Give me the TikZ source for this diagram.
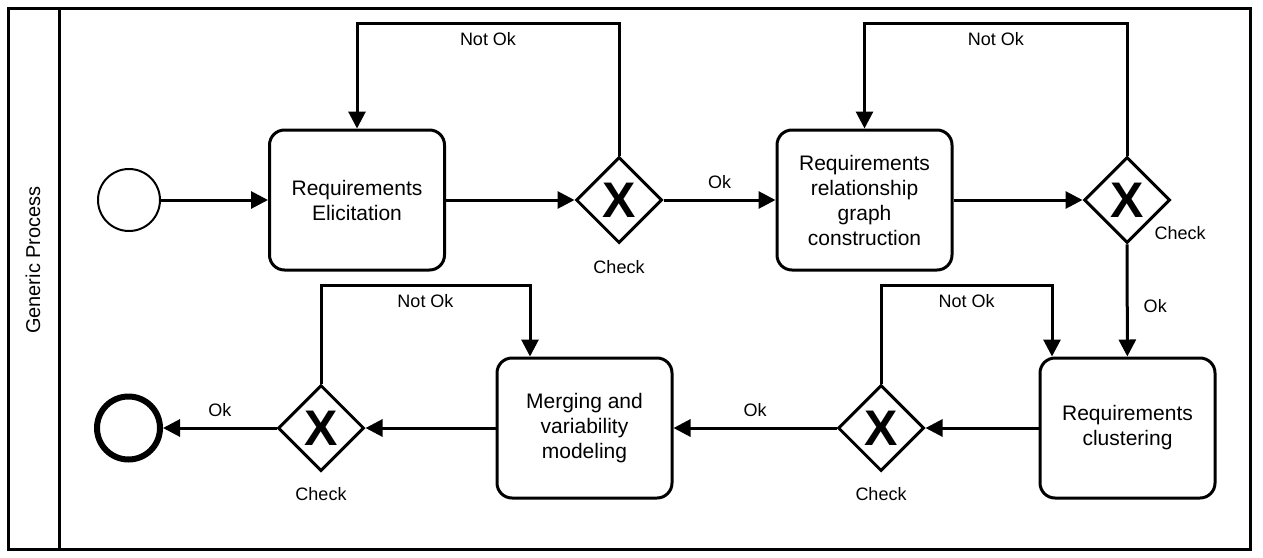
\documentclass[tikz,border=0pt]{standalone}
\usepackage{fontspec}
\setmainfont{Liberation Sans}
\usetikzlibrary{arrows.meta,shapes.geometric,positioning}
\begin{document}
\begin{tikzpicture}[x=1pt,y=-1pt,
  task/.style={draw,line width=3pt,rounded corners=15pt,minimum width=175pt,minimum height=140pt,align=center,inner sep=0pt,font=\fontsize{21}{25}\selectfont},
  gw/.style={draw,diamond,line width=3pt,minimum width=86pt,minimum height=86pt,inner sep=0pt},
  gx/.style={font=\fontsize{50}{50}\selectfont\bfseries},
  lbl/.style={font=\fontsize{18}{20}\selectfont,inner sep=0pt},
  flow/.style={line width=3pt,-{Triangle[length=17pt,width=17pt]}},
]
\useasboundingbox (0,0) rectangle (1263,557);
% pool
\draw[line width=3pt] (8,8) rectangle (1250,549);
\draw[line width=3pt] (59,8) -- (59,549);
\node[rotate=90,font=\fontsize{20}{22}\selectfont] (pool) at (33,260) {Generic Process};
% events
\node[draw,circle,line width=2pt,minimum size=62pt,inner sep=0pt] (start) at (129,200) {};
\node[draw,circle,line width=6pt,minimum size=63pt,inner sep=0pt] (end) at (128.5,428) {};
% tasks
\node[task] (t1) at (357,200) {Requirements\\Elicitation};
\node[task] (t2) at (864.5,200) {Requirements\\relationship\\graph\\construction};
\node[task] (t3) at (1127.5,428) {Requirements\\clustering};
\node[task] (t4) at (584.5,428) {Merging and\\variability\\modeling};
% gateways
\node[gw] (g1) at (619,200) {};
\node[gw] (g2) at (1127,200) {};
\node[gw] (g3) at (881,428) {};
\node[gw] (g4) at (321,428) {};
\node[gx] (x1) at (g1) {X};
\node[gx] (x2) at (g2) {X};
\node[gx] (x3) at (g3) {X};
\node[gx] (x4) at (g4) {X};
% check labels
\node[lbl] (c1) at (619,267) {Check};
\node[lbl] (c2) at (1180,233) {Check};
\node[lbl] (c3) at (881,494) {Check};
\node[lbl] (c4) at (321,494) {Check};
% flows
\draw[flow] (start) -- (t1);
\draw[flow] (t1) -- (g1);
\draw[flow] (g1) -- node[lbl,above=10pt,pos=0.5]{Ok} (t2);
\draw[flow] (t2) -- (g2);
\draw[flow] (g2) -- node[lbl,right=15pt,pos=0.55]{Ok} (t3);
\draw[flow] (t3) -- (g3);
\draw[flow] (g3) -- node[lbl,above=10pt,pos=0.5]{Ok} (t4);
\draw[flow] (t4) -- (g4);
\draw[flow] (g4) -- node[lbl,above=10pt,pos=0.5]{Ok} (end);
% loops
\draw[flow] (g1.north) -- ++(0,-132) -| node[lbl,pos=0.25,below=7pt]{Not Ok} (t1.north);
\draw[flow] (g2.north) -- ++(0,-132) -| node[lbl,pos=0.25,below=7pt]{Not Ok} (t2.north);
\draw[flow] (g3.north) -- ++(0,-98) -| node[lbl,pos=0.25,below=7pt]{Not Ok} ([xshift=13.5pt]t3.north west);
\draw[flow] (g4.north) -- ++(0,-98) -| node[lbl,pos=0.25,below=7pt]{Not Ok} ([xshift=-54.5pt]t4.north);
\end{tikzpicture}
\end{document}
